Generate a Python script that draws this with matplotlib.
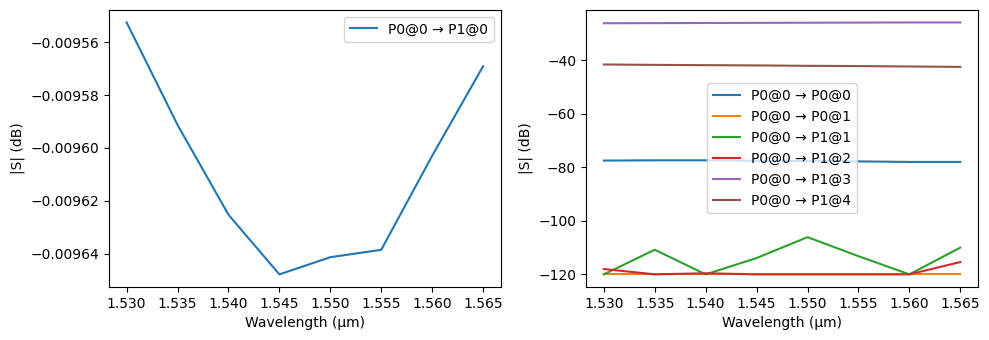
import matplotlib
matplotlib.use("Agg")
import matplotlib.pyplot as plt

wavelength = [1.530, 1.535, 1.540, 1.545, 1.550, 1.555, 1.560, 1.565]

s_p1_0 = [-0.0095525, -0.0095913, -0.0096253, -0.0096479, -0.0096414, -0.0096386, -0.0096030, -0.0095691]

s_p0_0 = [-77.5, -77.4, -77.4, -77.6, -77.7, -77.8, -78.0, -78.0]
s_p0_1 = [-120.0, -120.0, -120.0, -120.0, -120.0, -120.0, -120.0, -120.0]
s_p1_1 = [-120.0, -110.8, -120.0, -113.9, -106.1, -113.2, -120.0, -110.0]
s_p1_2 = [-118.0, -120.0, -119.6, -120.0, -120.0, -120.0, -120.0, -115.4]
s_p1_3 = [-26.2, -26.15, -26.1, -26.05, -26.0, -25.95, -25.9, -25.9]
s_p1_4 = [-41.6, -41.75, -41.85, -41.95, -42.1, -42.2, -42.35, -42.5]

right_series = [
    ("P0@0 → P0@0", s_p0_0),
    ("P0@0 → P0@1", s_p0_1),
    ("P0@0 → P1@1", s_p1_1),
    ("P0@0 → P1@2", s_p1_2),
    ("P0@0 → P1@3", s_p1_3),
    ("P0@0 → P1@4", s_p1_4),
]

fig, (ax1, ax2) = plt.subplots(1, 2, figsize=(9.89, 3.4), dpi=100)
fig.subplots_adjust(left=0.110, right=0.989, top=0.971, bottom=0.156, wspace=0.217)

ax1.plot(wavelength, s_p1_0, label="P0@0 → P1@0")
ax1.set_xlabel("Wavelength (µm)")
ax1.set_ylabel("|S| (dB)")
ax1.legend(loc="upper right")

for lab, vals in right_series:
    ax2.plot(wavelength, vals, label=lab)
ax2.set_xlabel("Wavelength (µm)")
ax2.set_ylabel("|S| (dB)")
ax2.legend(loc="center")

fig.savefig("out.png", dpi=100)
